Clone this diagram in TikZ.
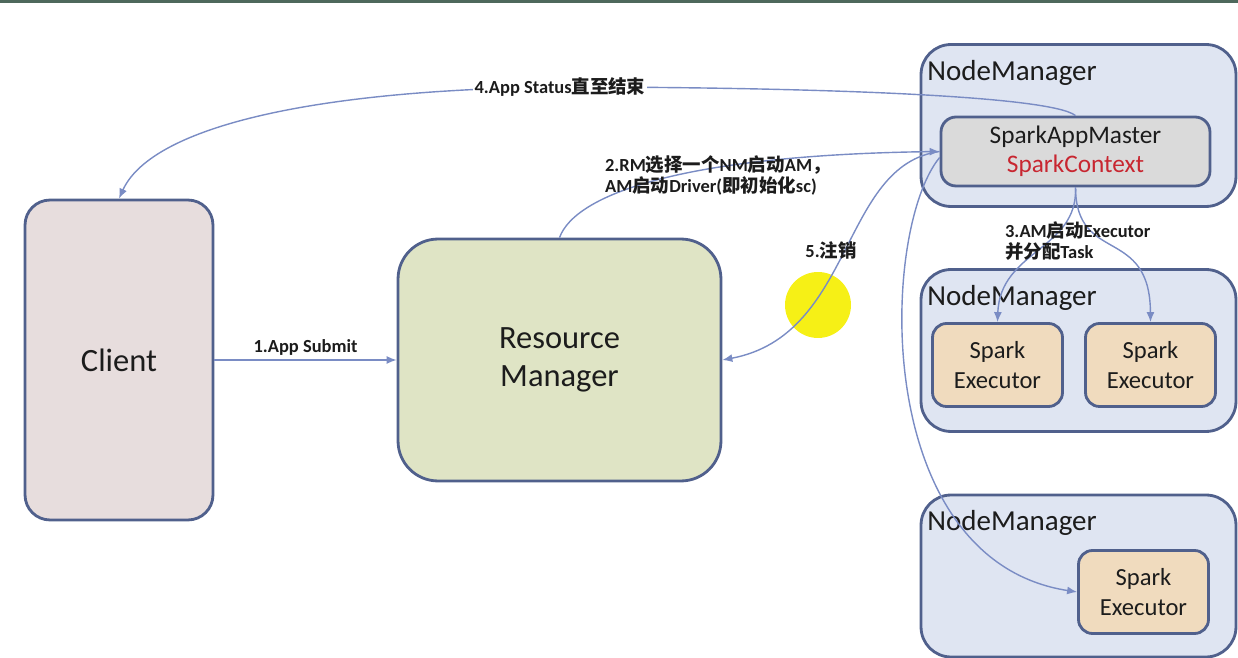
\documentclass[tikz,border=0pt]{standalone}
\usepackage{fontspec}
\setmainfont{Carlito}
\newfontfamily\cjk{Noto Sans CJK SC}
\usetikzlibrary{arrows.meta}
\newcommand{\zh}[1]{{\cjk #1}}
\definecolor{edge}{RGB}{80,96,140}
\definecolor{linkc}{RGB}{122,140,196}
\definecolor{ink}{RGB}{28,28,28}
\definecolor{clientfill}{RGB}{231,221,221}
\definecolor{rmfill}{RGB}{223,228,197}
\definecolor{nmfill}{RGB}{223,229,242}
\definecolor{amfill}{RGB}{218,218,218}
\definecolor{exfill}{RGB}{240,219,190}
\definecolor{ctxred}{RGB}{200,38,48}
\definecolor{topbar}{RGB}{78,104,92}
\definecolor{cursor}{RGB}{246,240,22}
\begin{document}
\begin{tikzpicture}[x=0.02cm,y=-0.02cm,
	box/.style={draw=edge,line width=1.6pt,rounded corners=#1,text=ink},
	link/.style={draw=linkc,line width=0.8pt,-{Latex[length=2mm,width=1.6mm]}},
	lbl/.style={font=\fontsize{10.5}{12}\selectfont\bfseries,text=ink,inner sep=1pt},
	nmtext/.style={font=\fontsize{16.5}{20}\selectfont,text=ink,inner sep=0pt}]
	\useasboundingbox (0,0) rectangle (1238,658);
	\fill[topbar] (0,0) rectangle (1238,3.5);
	% Client and Resource Manager
	\node[box=0.5cm,fill=clientfill,minimum width=3.76cm,minimum height=6.4cm,font=\fontsize{18.5}{22}\selectfont] (client) at (119,360) {Client};
	\node[box=0.8cm,fill=rmfill,minimum width=6.46cm,minimum height=4.84cm,align=center,font=\fontsize{18.5}{22}\selectfont] (rm) at (559.5,360) {Resource\\Manager};
	% NodeManagers
	\foreach \n/\y in {nmA/125.5,nmB/350.5,nmC/576}{
		\node[box=0.6cm,fill=nmfill,minimum width=6.3cm,minimum height=3.24cm] (\n) at (1078.5,\y) {};
		\node[nmtext,anchor=base west] (\n-t) at (927,\y-45) {NodeManager};
	}
	% App master
	\node[box=0.3cm,fill=amfill,minimum width=5.38cm,minimum height=1.38cm,align=center,font=\fontsize{14.4}{16.5}\selectfont] (am) at (1075.5,151.5) {SparkAppMaster\\\textcolor{ctxred}{SparkContext}};
	% Executors
	\foreach \n/\x/\y in {exA/997.5/365,exB/1150.5/365,exC/1143.5/592}{
		\node[box=0.28cm,fill=exfill,minimum width=2.6cm,minimum height=1.66cm,align=center,font=\fontsize{14}{17}\selectfont] (\n) at (\x,\y) {Spark\\Executor};
	}
	% Pointer
	\fill[cursor] (818,305) circle (0.66cm);
	% 1.App Submit
	\draw[link] (client) -- (rm) node[lbl,midway,above=1pt] (s1) {1.App Submit};
	% 2.RM starts AM
	\draw[link] (rm.north) .. controls (575,195) and (680,155) .. (am.west);
	\node[lbl,anchor=north west,align=left] (s2) at (603,154) {2.RM\zh{选择一个}NM\zh{启动}AM\zh{，}\\AM\zh{启动}Driver(\zh{即初始化}sc)};
	% 3.Executors
	\draw[link] (am.south) .. controls (1078,250) and (1000,250) .. (exA.north);
	\draw[link] (am.south) .. controls (1076,265) and (1150,225) .. (exB.north);
	\node[lbl,anchor=north west,align=left] (s3) at (1003,220) {3.AM\zh{启动}Executor\\\zh{并分配}Task};
	% 4.App Status
	\draw[link] (am.north) .. controls (1050,95) and (800,87) .. (560,87) node[lbl,fill=white] (s4) {4.App Status\zh{直至结束}} .. controls (300,90) and (150,130) .. (client.north);
	% 5.unregister
	\draw[link] (am.west) .. controls (840,165) and (855,335) .. (rm.east);
	\node[lbl] (s5) at (831,250) {5.\zh{注销}};
	% third executor
	\draw[link] ([yshift=-0.12cm]am.west) .. controls (880,230) and (870,560) .. (exC.west);
\end{tikzpicture}
\end{document}
